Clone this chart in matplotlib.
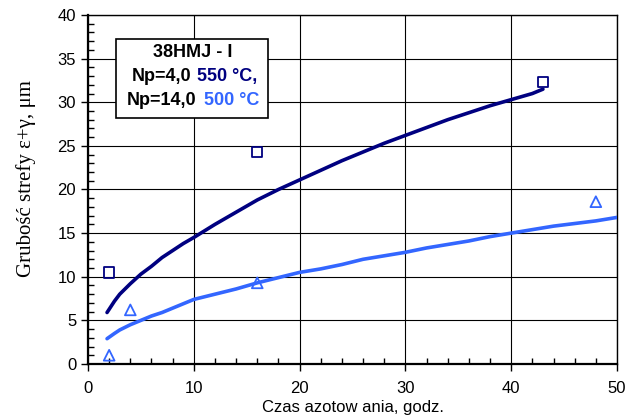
import numpy as np
import matplotlib
import matplotlib.pyplot as plt
from matplotlib.ticker import MultipleLocator

# krzywe dopasowania
t_550 = [1.8, 2.5, 3, 4, 5, 6, 7, 8, 9, 10, 12, 14, 16, 18, 20, 22, 24, 26, 28, 30, 32, 34, 36, 38, 40, 42, 43]
g_550 = [5.9, 7.2, 8.0, 9.2, 10.3, 11.2, 12.2, 13.0, 13.8, 14.5, 16.0, 17.4, 18.8, 20.0, 21.1, 22.2, 23.3, 24.3,
         25.3, 26.2, 27.1, 28.0, 28.8, 29.6, 30.3, 31.0, 31.5]
t_500 = [1.8, 2.5, 3, 4, 5, 6, 7, 8, 9, 10, 12, 14, 16, 18, 20, 22, 24, 26, 28, 30, 32, 34, 36, 38, 40, 42, 44, 46, 48, 50]
g_500 = [2.9, 3.5, 3.9, 4.5, 5.0, 5.5, 5.9, 6.4, 6.9, 7.4, 8.0, 8.6, 9.3, 9.9, 10.5, 10.9, 11.4, 12.0, 12.4, 12.8,
         13.3, 13.7, 14.1, 14.6, 15.0, 15.4, 15.8, 16.1, 16.4, 16.8]

# punkty pomiarowe
pt_550_x = [2, 16, 43]
pt_550_y = [10.5, 24.3, 32.3]
pt_500_x = [2, 4, 16, 48]
pt_500_y = [1.0, 6.2, 9.3, 18.6]

c_dark = '#000080'
c_light = '#3366ff'

fig = plt.figure(figsize=(6.34, 4.19), dpi=100)
ax = fig.add_axes([0.1388, 0.1313, 0.8344, 0.8329])

ax.plot(t_550, g_550, color=c_dark, lw=2.6, solid_capstyle='round', zorder=3)
ax.plot(t_500, g_500, color=c_light, lw=2.6, solid_capstyle='round', zorder=3)
ax.scatter(pt_550_x, pt_550_y, marker='s', s=55, facecolors='none', edgecolors=c_dark, linewidths=1.3, zorder=4)
ax.scatter(pt_500_x, pt_500_y, marker='^', s=60, facecolors='none', edgecolors=c_light, linewidths=1.3, zorder=4)

ax.set_xlim(0, 50)
ax.set_ylim(0, 40)
ax.xaxis.set_major_locator(MultipleLocator(10))
ax.xaxis.set_minor_locator(MultipleLocator(2))
ax.yaxis.set_major_locator(MultipleLocator(5))
ax.yaxis.set_minor_locator(MultipleLocator(1))
ax.grid(True, which='major', color='black', lw=0.8)
ax.set_axisbelow(True)
ax.tick_params(which='major', direction='out', length=5, width=1, labelsize=12)
ax.tick_params(axis='x', which='major', pad=7)
ax.tick_params(which='minor', direction='in', length=4, width=1)
for lab in ax.get_xticklabels() + ax.get_yticklabels():
    lab.set_family('Liberation Sans')
for s in ax.spines.values():
    s.set_linewidth(1.0)
ax.spines['left'].set_linewidth(1.6)
ax.spines['bottom'].set_linewidth(1.6)

ax.set_xlabel('Czas azotow ania, godz.', family='Liberation Sans', fontsize=12, labelpad=3)
ax.set_ylabel('Grubość strefy ε+γ, μm', family='Liberation Serif', fontsize=15, labelpad=6)
ax.yaxis.set_label_coords(-0.098, 0.53)

# ramka z opisem
ax.add_patch(plt.Rectangle((2.65, 28.2), 14.4, 9.1, facecolor='white', edgecolor='black', lw=1.2, zorder=5))
kw = dict(fontsize=13, fontweight='bold', family='Liberation Sans', zorder=6, va='center')
ax.text(9.85, 35.7, '38HMJ - I', ha='center', **kw)
ax.text(4.1, 33.0, 'Np=4,0', ha='left', **kw)
ax.text(10.3, 33.0, '550 \u00b0C,', ha='left', color=c_dark, **kw)
ax.text(3.7, 30.2, 'Np=14,0', ha='left', **kw)
ax.text(10.95, 30.2, '500 \u00b0C', ha='left', color=c_light, **kw)

plt.savefig('out.png', dpi=100)
